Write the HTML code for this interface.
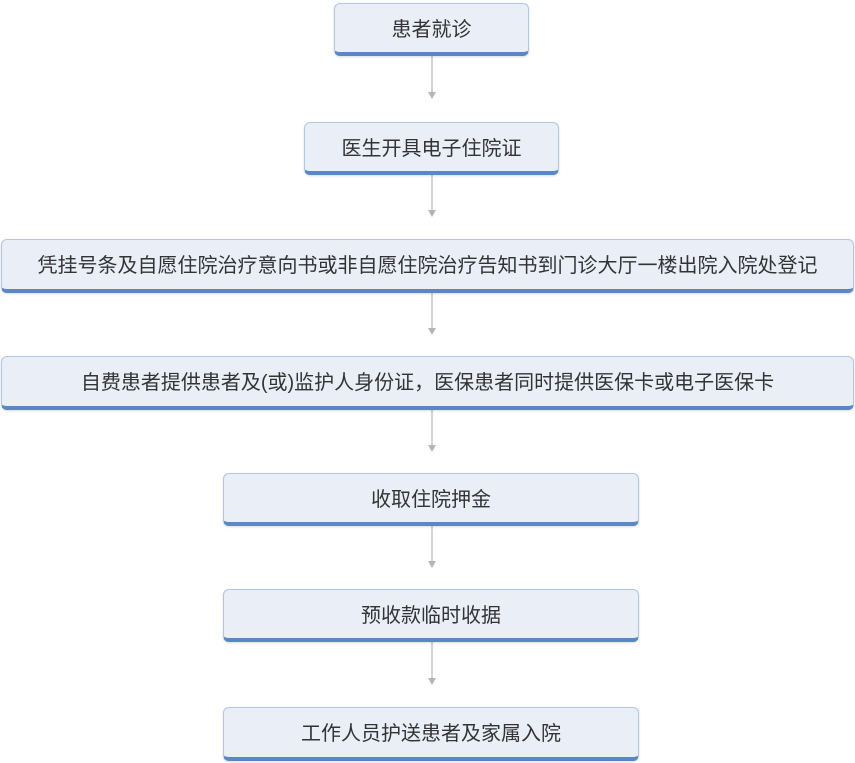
<!DOCTYPE html>
<html><head><meta charset="utf-8"><style>
body{margin:0;width:855px;height:763px;background:#fff;position:relative;overflow:hidden;font-family:"Liberation Sans","Noto Sans CJK SC",sans-serif}
.b{position:absolute;box-sizing:border-box;background:#e9eef7;border:1px solid #b3c7e3;border-bottom:4px solid #5b87c4;border-radius:6px;display:flex;align-items:center;justify-content:center;font-size:20px;color:#333;box-shadow:0 1px 2px rgba(0,0,0,.15);padding-bottom:2px}
svg{position:absolute;left:0;top:0}
</style></head><body>
<svg width="855" height="763">
<g stroke="#c4c4c4" stroke-width="1.5">
<line x1="432" y1="56" x2="432" y2="94"/>
<line x1="432" y1="175" x2="432" y2="212"/>
<line x1="432" y1="293" x2="432" y2="330"/>
<line x1="432" y1="410" x2="432" y2="447"/>
<line x1="432" y1="526" x2="432" y2="563"/>
<line x1="432" y1="642" x2="432" y2="680"/>
</g>
<g fill="#b5b5b5">
<path d="M428,92 L436,92 L432,99Z"/>
<path d="M428,210 L436,210 L432,217Z"/>
<path d="M428,328 L436,328 L432,335Z"/>
<path d="M428,445 L436,445 L432,452Z"/>
<path d="M428,561 L436,561 L432,568Z"/>
<path d="M428,678 L436,678 L432,685Z"/>
</g>
</svg>
<div class="b" style="left:334px;top:3px;width:195px;height:53px">患者就诊</div>
<div class="b" style="left:304px;top:122px;width:255px;height:53px">医生开具电子住院证</div>
<div class="b" style="left:1px;top:239px;width:853px;height:54px">凭挂号条及自愿住院治疗意向书或非自愿住院治疗告知书到门诊大厅一楼出院入院处登记</div>
<div class="b" style="left:1px;top:356px;width:853px;height:54px">自费患者提供患者及(或)监护人身份证，医保患者同时提供医保卡或电子医保卡</div>
<div class="b" style="left:223px;top:473px;width:416px;height:53px">收取住院押金</div>
<div class="b" style="left:223px;top:589px;width:416px;height:53px">预收款临时收据</div>
<div class="b" style="left:223px;top:707px;width:416px;height:54px">工作人员护送患者及家属入院</div>
</body></html>
